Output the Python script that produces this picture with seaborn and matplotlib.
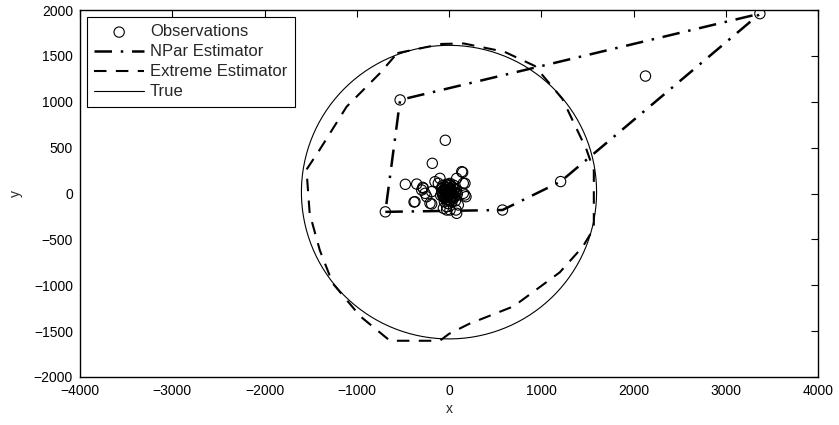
import numpy as np
import pandas as pd
import matplotlib
matplotlib.use("Agg")
import matplotlib.pyplot as plt
import seaborn as sns

# ---------------- data ----------------
# observations (x, y)
obs_x = [-690, 580, 1210, 3370, -530, 2130, -40, -181, 148, -473, -350, -285, -296,
         -379, -188, -242, -188, -98, -152, 83, 173, 184, -25, 76, 83, -61, 155,
         138, -278, -260, -206, -116, 155, 173, 101, 11, -25, -369,
         -60, -40, -20, 10, 40, 60, 70, 60, 40, 10, -20, -50, -70, -75,
         -30, 0, 30, 35, 25, -5, -35, -40, -10, 15, 5, -15, 20, 50, 45,
         -55, -25, 15, -5, 0, 25, -20, -45, 55, -60, -80, 80, 90, -90, 0, 30, -30,
         70, -70, 10, -10, 50, -50]
obs_y = [-200, -180, 130, 1960, 1020, 1280, 580, 329, 231, 100, 103, 67, 38,
         -93, 20, -35, -114, 165, 129, 165, 111, -35, -180, -180, -216, -161, 2,
         238, 57, 2, -107, 111, 111, -16, -125, -180, -144, -89,
         40, 70, 90, 85, 70, 45, 10, -30, -60, -75, -70, -50, -15, 20,
         30, 40, 35, 0, -30, -35, -20, 10, 5, 10, -10, 60, 55, 20, -15,
         -5, -45, -50, 20, -5, 15, -10, 45, -45, -35, 60, 40, -5, -20, 100, -95, 100,
         -80, 85, 110, -110, 90, -90]

# nonparametric estimator (closed polygon)
npar_x = [-690, 580, 1210, 3370, -530, -690]
npar_y = [-200, -180, 130, 1960, 1020, -200]

# extreme estimator (closed polygon)
ext_x = [-560, -80, 160, 600, 930, 1230, 1490, 1570, 1570, 1450, 1200, 700, 220, 0,
         -100, -640, -960, -1260, -1400, -1510, -1545, -1400, -1110, -750, -560]
ext_y = [1530, 1630, 1635, 1545, 1390, 1030, 480, 250, -380, -580, -860, -1230, -1420, -1530,
         -1605, -1605, -1340, -980, -620, -220, 260, 480, 946, 1310, 1530]

# true boundary: circle
true_center = (0, 15)
true_radius = 1600

# ---------------- plot ----------------
sns.set_style("white")
plt.rcParams['font.family'] = ['Liberation Sans', 'DejaVu Sans']

fig = plt.figure(figsize=(8.39, 4.25), dpi=100)
ax = fig.add_axes([80/839, 1-377/425, 738/839, 367/425])

sns.scatterplot(x=obs_x, y=obs_y, ax=ax, marker='o', s=55, facecolor='none',
                edgecolor='k', linewidth=0.8, label='Observations', zorder=3)

sns.lineplot(x=npar_x, y=npar_y, ax=ax, sort=False, estimator=None, color='k',
             linewidth=1.8, linestyle=(0, (7, 3.5, 1, 3.5)), label='NPar Estimator')

sns.lineplot(x=ext_x, y=ext_y, ax=ax, sort=False, estimator=None, color='k',
             linewidth=1.5, linestyle=(0, (6, 4.5)), label='Extreme Estimator')

t = np.linspace(0, 2*np.pi, 400)
cx = true_center[0] + true_radius*np.cos(t)
cy = true_center[1] + true_radius*np.sin(t)
sns.lineplot(x=cx, y=cy, ax=ax, sort=False, estimator=None, color='k',
             linewidth=0.8, label='True')

ax.set_xlim(-4000, 4000)
ax.set_ylim(-2000, 2000)
ax.set_xticks(np.arange(-4000, 4001, 1000))
ax.set_yticks(np.arange(-2000, 2001, 500))
ax.set_xticklabels([str(v).replace('-', '\u2212') for v in range(-4000, 4001, 1000)])
ax.set_yticklabels([str(v).replace('-', '\u2212') for v in range(-2000, 2001, 500)])
ax.tick_params(axis='x', pad=5)
ax.tick_params(axis='y', pad=5)
ax.tick_params(direction='in', length=5, width=0.8, top=True, right=True,
               labelsize=10, colors='k')
for s in ax.spines.values():
    s.set_color('k')
    s.set_linewidth(1.0)
ax.set_xlabel('x', fontsize=10, labelpad=3)
ax.set_ylabel('y', fontsize=10, labelpad=8)

leg = ax.legend(loc='upper left', bbox_to_anchor=(0.009, 0.981), fontsize=12,
                frameon=True, fancybox=False, edgecolor='k', framealpha=1,
                handlelength=3.0, labelspacing=0.3, borderaxespad=0,
                handletextpad=0.35, borderpad=0.45)
leg.get_frame().set_linewidth(0.8)

fig.savefig('out.png', dpi=100)
